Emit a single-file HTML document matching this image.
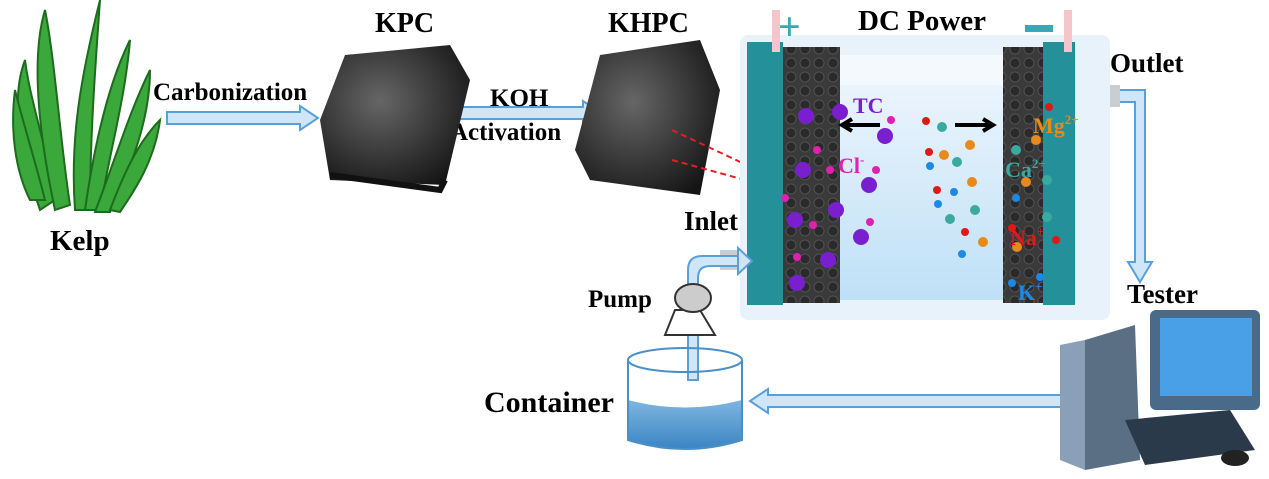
<!DOCTYPE html>
<html><head><style>body{margin:0;background:#fff}svg{display:block}text{font-family:"Liberation Serif",serif;font-weight:bold}</style></head><body>
<svg width="1269" height="479" viewBox="0 0 1269 479" xmlns="http://www.w3.org/2000/svg">
<defs>
<radialGradient id="blk" cx="40%" cy="40%" r="70%"><stop offset="0" stop-color="#666"/><stop offset="1" stop-color="#151515"/></radialGradient>
<pattern id="holes" width="14" height="14" patternUnits="userSpaceOnUse"><rect width="14" height="14" fill="#3a3a3a"/><circle cx="7" cy="7" r="5" fill="#2a2a2a" stroke="#505050" stroke-width="1"/></pattern>
<linearGradient id="liq" x1="0" y1="0" x2="0" y2="1"><stop offset="0" stop-color="#eaf4fc"/><stop offset="1" stop-color="#bfe0f7"/></linearGradient>
<linearGradient id="cont" x1="0" y1="0" x2="0" y2="1"><stop offset="0" stop-color="#7fb6e0"/><stop offset="1" stop-color="#3a85c4"/></linearGradient>
</defs>
<g fill="#3aa83a" stroke="#1d6b1d" stroke-width="2">
<path d="M40 210 C20 150 10 100 25 60 C30 100 45 140 55 200 Z"/>
<path d="M55 210 C40 140 30 60 45 10 C55 60 60 140 70 205 Z"/>
<path d="M75 210 C70 140 80 80 100 0 C95 70 90 140 90 210 Z"/>
<path d="M85 210 C95 140 110 80 130 40 C125 100 110 150 100 210 Z"/>
<path d="M95 212 C115 160 130 110 150 70 C150 120 130 170 110 212 Z"/>
<path d="M30 200 C15 170 10 130 15 90 C25 130 35 160 45 200 Z"/>
<path d="M110 210 C125 170 140 140 160 120 C155 160 135 190 120 212 Z"/>
</g>
<text x="50" y="250" font-size="29">Kelp</text>
<g fill="#cfe6f8" stroke="#5aa0d8" stroke-width="2">
<path d="M167 112 H300 V106 L318 118 L300 130 V124 H167 Z"/>
<path d="M446 107 H583 V101 L601 113 L583 125 V119 H446 Z"/>
<path d="M1062 395 H768 V389 L750 401 L768 413 V407 H1062 Z"/>
<path d="M1108 90 H1145 V262 H1152 L1140 282 L1128 262 H1135 V102 H1108 Z"/>
</g>
<text x="153" y="100" font-size="25">Carbonization</text>
<text x="375" y="32" font-size="28">KPC</text>
<text x="490" y="106" font-size="25">KOH</text>
<text x="450" y="140" font-size="25">Activation</text>
<text x="608" y="32" font-size="28">KHPC</text>
<rect x="857" y="8" width="145" height="30" fill="#fff"/>
<text x="858" y="30" font-size="29">DC Power</text>
<text x="1110" y="72" font-size="27">Outlet</text>
<text x="684" y="230" font-size="27">Inlet</text>
<text x="1127" y="303" font-size="27">Tester</text>
<text x="588" y="307" font-size="25">Pump</text>
<text x="484" y="412" font-size="30">Container</text>
<path d="M345 55 L450 45 L470 80 L445 185 L330 180 L320 120 Z" fill="url(#blk)"/>
<path d="M330 175 L440 190 L445 180" stroke="#111" stroke-width="6" fill="none"/>
<path d="M600 55 L700 40 L720 90 L700 195 L590 180 L575 150 Z" fill="url(#blk)"/>
<line x1="672" y1="130" x2="800" y2="190" stroke="#e02020" stroke-width="2" stroke-dasharray="6,4"/>
<line x1="672" y1="160" x2="800" y2="195" stroke="#e02020" stroke-width="2" stroke-dasharray="6,4"/>
<rect x="1080" y="85" width="40" height="22" fill="#c9ced3"/>
<rect x="720" y="250" width="40" height="20" fill="#c9ced3"/>
<rect x="740" y="35" width="370" height="285" fill="#e8f2fb" rx="8"/>
<rect x="840" y="85" width="165" height="215" fill="url(#liq)"/>
<rect x="840" y="55" width="165" height="30" fill="#f4f9fd"/>
<rect x="778" y="47" width="62" height="256" fill="url(#holes)"/>
<rect x="1003" y="47" width="67" height="256" fill="url(#holes)"/>
<rect x="747" y="42" width="36" height="263" fill="#24909a"/>
<rect x="1043" y="42" width="32" height="263" fill="#24909a"/>
<rect x="772" y="10" width="8" height="42" fill="#f4c6cc"/>
<rect x="1064" y="10" width="8" height="42" fill="#f4c6cc"/>
<text x="778" y="40" font-size="40" fill="#3aa7b5">+</text>
<rect x="1025" y="25" width="28" height="7" fill="#3aa7b5"/>
<g fill="#7a1fd0"><circle cx="806" cy="116" r="8"/><circle cx="840" cy="112" r="8"/><circle cx="885" cy="136" r="8"/><circle cx="803" cy="170" r="8"/><circle cx="869" cy="185" r="8"/><circle cx="836" cy="210" r="8"/><circle cx="795" cy="220" r="8"/><circle cx="861" cy="237" r="8"/><circle cx="828" cy="260" r="8"/><circle cx="797" cy="283" r="8"/></g>
<g fill="#e020b0"><circle cx="891" cy="120" r="4"/><circle cx="817" cy="150" r="4"/><circle cx="830" cy="170" r="4"/><circle cx="876" cy="170" r="4"/><circle cx="785" cy="198" r="4"/><circle cx="813" cy="225" r="4"/><circle cx="870" cy="222" r="4"/><circle cx="797" cy="257" r="4"/></g>
<g fill="#e01818"><circle cx="926" cy="121" r="4"/><circle cx="929" cy="152" r="4"/><circle cx="937" cy="190" r="4"/><circle cx="965" cy="232" r="4"/><circle cx="1049" cy="107" r="4"/><circle cx="1012" cy="228" r="4"/><circle cx="1056" cy="240" r="4"/></g>
<g fill="#e88a1a"><circle cx="970" cy="145" r="5"/><circle cx="944" cy="155" r="5"/><circle cx="972" cy="182" r="5"/><circle cx="983" cy="242" r="5"/><circle cx="1036" cy="140" r="5"/><circle cx="1026" cy="182" r="5"/><circle cx="1017" cy="247" r="5"/></g>
<g fill="#3aaaa0"><circle cx="942" cy="127" r="5"/><circle cx="957" cy="162" r="5"/><circle cx="975" cy="210" r="5"/><circle cx="950" cy="219" r="5"/><circle cx="1016" cy="150" r="5"/><circle cx="1047" cy="180" r="5"/><circle cx="1047" cy="217" r="5"/></g>
<g fill="#1e88e5"><circle cx="930" cy="166" r="4"/><circle cx="954" cy="192" r="4"/><circle cx="938" cy="204" r="4"/><circle cx="962" cy="254" r="4"/><circle cx="1016" cy="198" r="4"/><circle cx="1040" cy="277" r="4"/><circle cx="1012" cy="283" r="4"/></g>
<text x="853" y="113" font-size="22" fill="#7a1fd0">TC</text>
<text x="838" y="173" font-size="22" fill="#e020b0">Cl<tspan font-size="13" dy="-9">-</tspan></text>
<text x="1033" y="133" font-size="22" fill="#e88a1a">Mg<tspan font-size="13" dy="-9">2+</tspan></text>
<text x="1005" y="177" font-size="22" fill="#3aaaa0">Ca<tspan font-size="13" dy="-9">2+</tspan></text>
<text x="1010" y="245" font-size="22" fill="#e01818">Na<tspan font-size="13" dy="-9">+</tspan></text>
<text x="1018" y="300" font-size="22" fill="#1e88e5">K<tspan font-size="13" dy="-9">+</tspan></text>
<path d="M880 125 H843 M852 119 L842 125 L852 131" stroke="#000" stroke-width="4" fill="none"/>
<path d="M955 125 H992 M983 119 L993 125 L983 131" stroke="#000" stroke-width="4" fill="none"/>
<path d="M688 380 V270 Q688 256 702 256 H740 V266 H710 Q698 266 698 278 V380 Z" fill="#cfe6f8" stroke="#5aa0d8" stroke-width="2"/>
<path d="M738 248 L752 261 L738 274 Z" fill="#cfe6f8" stroke="#5aa0d8" stroke-width="2"/>
<path d="M675 310 L700 310 L715 335 L665 335 Z" fill="#fff" stroke="#333" stroke-width="2"/>
<ellipse cx="693" cy="298" rx="18" ry="14" fill="#ccc" stroke="#333" stroke-width="2"/>
<path d="M628 400 Q685 415 742 400 V440 Q685 458 628 440 Z" fill="url(#cont)"/>
<path d="M628 360 V440 Q685 458 742 440 V360" fill="none" stroke="#4a90c8" stroke-width="2"/>
<ellipse cx="685" cy="360" rx="57" ry="12" fill="none" stroke="#4a90c8" stroke-width="2"/>
<rect x="1150" y="310" width="110" height="100" rx="6" fill="#4a6a8a"/>
<rect x="1160" y="318" width="92" height="78" fill="#4aa0e6"/>
<path d="M1085 340 L1135 325 L1140 460 L1085 470 Z" fill="#5a6e84"/>
<path d="M1060 345 L1085 340 L1085 470 L1060 460 Z" fill="#8aa0b8"/>
<path d="M1125 420 L1230 410 L1255 450 L1145 465 Z" fill="#2a3a4a"/>
<ellipse cx="1235" cy="458" rx="14" ry="8" fill="#222"/>
</svg>
</body></html>
